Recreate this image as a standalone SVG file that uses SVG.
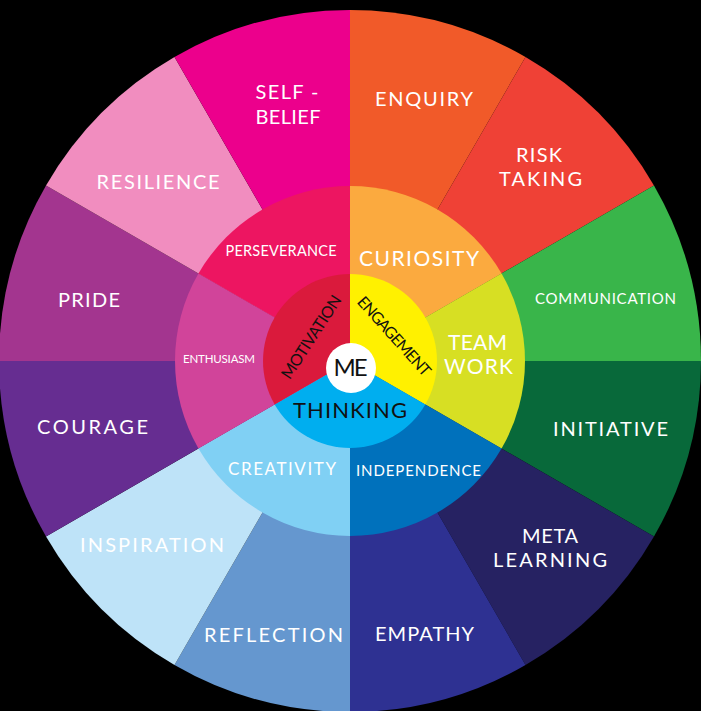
<svg xmlns="http://www.w3.org/2000/svg" width="701" height="711" viewBox="0 0 701 711">
<style>
text{font-family:Lato,"Open Sans","DejaVu Sans",sans-serif;text-anchor:middle;}
.w{fill:#ffffff;}
.k{fill:#111111;}
.o{font-size:20px;}
.m{font-size:21px;}
.s{font-size:15px;}
.r{font-size:16px;}
</style>
<rect x="0" y="0" width="701" height="711" fill="#000000"/>
<g id="outer-ring">
<g id="enquiry"><path d="M350 361 L350 10 A351 351 0 0 1 525.5 57.03 Z" fill="#F15A29"/><text class="w o" x="424" y="106" textLength="98" lengthAdjust="spacing">ENQUIRY</text></g>
<g id="risk-taking"><path d="M350 361 L525.5 57.03 A351 351 0 0 1 653.97 185.5 Z" fill="#EF4136"/><text class="w o" x="539" y="162" textLength="46" lengthAdjust="spacing">RISK</text><text class="w o" x="540.5" y="186" textLength="83" lengthAdjust="spacing">TAKING</text></g>
<g id="communication"><path d="M350 361 L653.97 185.5 A351 351 0 0 1 701 361 Z" fill="#39B54A"/><text class="w s" x="605.5" y="304" textLength="141" lengthAdjust="spacing">COMMUNICATION</text></g>
<g id="initiative"><path d="M350 361 L701 361 A351 351 0 0 1 653.97 536.5 Z" fill="#08693A"/><text class="w o" x="610.5" y="436" textLength="115" lengthAdjust="spacing">INITIATIVE</text></g>
<g id="meta-learning"><path d="M350 361 L653.97 536.5 A351 351 0 0 1 525.5 664.97 Z" fill="#262262"/><text class="w o" x="550" y="543" textLength="56" lengthAdjust="spacing">META</text><text class="w o" x="550" y="567" textLength="114" lengthAdjust="spacing">LEARNING</text></g>
<g id="empathy"><path d="M350 361 L525.5 664.97 A351 351 0 0 1 350 712 Z" fill="#2E3192"/><text class="w o" x="424.5" y="641" textLength="99" lengthAdjust="spacing">EMPATHY</text></g>
<g id="reflection"><path d="M350 361 L350 712 A351 351 0 0 1 174.5 664.97 Z" fill="#6597CF"/><text class="w o" x="273.5" y="642" textLength="139" lengthAdjust="spacing">REFLECTION</text></g>
<g id="inspiration"><path d="M350 361 L174.5 664.97 A351 351 0 0 1 46.03 536.5 Z" fill="#BEE3F8"/><text class="w o" x="152" y="552" textLength="144" lengthAdjust="spacing">INSPIRATION</text></g>
<g id="courage"><path d="M350 361 L46.03 536.5 A351 351 0 0 1 -1 361 Z" fill="#662D91"/><text class="w o" x="92.5" y="434" textLength="111" lengthAdjust="spacing">COURAGE</text></g>
<g id="pride"><path d="M350 361 L-1 361 A351 351 0 0 1 46.03 185.5 Z" fill="#A3358F"/><text class="w o" x="89" y="307" textLength="62" lengthAdjust="spacing">PRIDE</text></g>
<g id="resilience"><path d="M350 361 L46.03 185.5 A351 351 0 0 1 174.5 57.03 Z" fill="#F18DBF"/><text class="w o" x="158" y="189" textLength="123" lengthAdjust="spacing">RESILIENCE</text></g>
<g id="self-belief"><path d="M350 361 L174.5 57.03 A351 351 0 0 1 350 10 Z" fill="#EC008C"/><text class="w o" x="287" y="99" textLength="63" lengthAdjust="spacing">SELF -</text><text class="w o" x="288" y="124" textLength="65" lengthAdjust="spacing">BELIEF</text></g>
</g>
<g id="middle-ring">
<g id="curiosity"><path d="M350 361 L350 186 A175 175 0 0 1 501.55 273.5 Z" fill="#FBAA3F"/><text class="w m" x="419" y="266" textLength="120" lengthAdjust="spacing">CURIOSITY</text></g>
<g id="team-work"><path d="M350 361 L501.55 273.5 A175 175 0 0 1 501.55 448.5 Z" fill="#D7DF23"/><text class="w m" x="477.5" y="350" textLength="59" lengthAdjust="spacing">TEAM</text><text class="w m" x="478.5" y="374" textLength="69" lengthAdjust="spacing">WORK</text></g>
<g id="independence"><path d="M350 361 L501.55 448.5 A175 175 0 0 1 350 536 Z" fill="#0071BC"/><text class="w s" x="418.5" y="476" textLength="125" lengthAdjust="spacing">INDEPENDENCE</text></g>
<g id="creativity"><path d="M350 361 L350 536 A175 175 0 0 1 198.45 448.5 Z" fill="#80D0F4"/><text class="w" style="font-size:17px" x="282" y="475" textLength="108" lengthAdjust="spacing">CREATIVITY</text></g>
<g id="enthusiasm"><path d="M350 361 L198.45 448.5 A175 175 0 0 1 198.45 273.5 Z" fill="#D1449A"/><text class="w" style="font-size:11.5px" x="219" y="363" textLength="72" lengthAdjust="spacing">ENTHUSIASM</text></g>
<g id="perseverance"><path d="M350 361 L198.45 273.5 A175 175 0 0 1 350 186 Z" fill="#ED1561"/><text class="w" style="font-size:14.5px" x="281" y="256" textLength="111" lengthAdjust="spacing">PERSEVERANCE</text></g>
</g>
<g id="inner-ring">
<g id="engagement"><path d="M350 361 L350 274 A87 87 0 0 1 425.34 404.5 Z" fill="#FFF100"/><text class="k r" transform="translate(390 340) rotate(48)" x="0" y="0" textLength="101" lengthAdjust="spacing">ENGAGEMENT</text></g>
<g id="thinking"><path d="M350 361 L425.34 404.5 A87 87 0 0 1 274.66 404.5 Z" fill="#00AEEF"/><text class="k" style="font-size:22px" x="350" y="418" textLength="114" lengthAdjust="spacing">THINKING</text></g>
<g id="motivation"><path d="M350 361 L274.66 404.5 A87 87 0 0 1 350 274 Z" fill="#DA1A3C"/><text class="k r" transform="translate(316 340) rotate(-57)" x="0" y="0" textLength="96" lengthAdjust="spacing">MOTIVATION</text></g>
</g>
<g id="me"><circle cx="351" cy="368" r="25" fill="#ffffff"/><text class="k" style="font-size:24px" x="350.5" y="376" textLength="34" lengthAdjust="spacing">ME</text></g>
</svg>
